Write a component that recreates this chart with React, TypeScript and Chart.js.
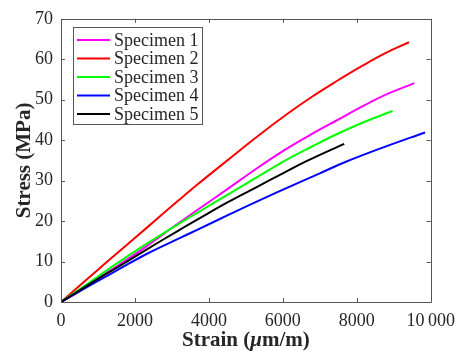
import React, { useEffect, useRef } from "react";
import { Chart, registerables } from "chart.js";

Chart.register(...registerables);

const seriesLabels = ["Specimen 1", "Specimen 2", "Specimen 3", "Specimen 4", "Specimen 5"];
const seriesColors = ["#ff00ff", "#ff0000", "#00ff00", "#0000ff", "#000000"];

const s1Strain = [0, 500, 1000, 1570, 2300, 3165, 3697, 4500, 5293, 6107, 6800, 7440, 8100, 8773, 9555];
const s1Stress = [0, 2.7, 5.8, 9.2, 13.7, 19.4, 22.8, 27.9, 33.0, 37.9, 41.6, 44.8, 48.1, 51.2, 54.1];

const s2Strain = [0, 1000, 1570, 2300, 3165, 3697, 4500, 5293, 6107, 6800, 7440, 8100, 8773, 9413];
const s2Stress = [0, 8.0, 12.5, 18.2, 25.0, 29.1, 35.0, 40.8, 46.4, 50.8, 54.5, 58.1, 61.5, 64.2];

const s3Strain = [0, 1000, 1570, 2300, 3165, 3697, 4500, 5293, 6107, 6800, 7440, 8200, 8968];
const s3Stress = [0, 6.3, 9.9, 14.3, 19.2, 22.1, 26.5, 30.8, 35.2, 38.5, 41.4, 44.5, 47.2];

const s4Strain = [0, 1000, 1570, 2300, 3165, 3697, 4500, 5293, 6356, 7000, 7690, 8773, 9848];
const s4Stress = [0, 5.2, 8.1, 11.8, 15.6, 17.9, 21.4, 24.8, 29.2, 31.8, 34.6, 38.4, 41.9];

const s5Strain = [0, 1000, 1570, 2300, 3165, 3697, 4500, 5293, 6000, 6640, 7661];
const s5Stress = [0, 5.7, 8.8, 12.9, 17.6, 20.4, 24.6, 28.4, 31.8, 34.8, 39.1];

const strainSeries = [s1Strain, s2Strain, s3Strain, s4Strain, s5Strain];
const stressSeries = [s1Stress, s2Stress, s3Stress, s4Stress, s5Stress];

const xMin = 0;
const xMax = 10000;
const xStep = 2000;
const yMin = 0;
const yMax = 70;
const yStep = 10;

const FONT = "'Liberation Serif', 'Times New Roman', serif";
const AXIS_COLOR = "#262626";

const framePlugin = {
  id: "frame",
  afterDraw(chart: any) {
    const ctx = chart.ctx;
    const { left, right, top, bottom } = chart.chartArea;
    const xs = chart.scales.x;
    const ys = chart.scales.y;
    ctx.save();
    ctx.strokeStyle = "#555555";
    ctx.lineWidth = 1;
    ctx.beginPath();
    ctx.rect(Math.round(left) + 0.5, Math.round(top) + 0.5, Math.round(right - left), Math.round(bottom - top));
    ctx.stroke();
    const tl = 4;
    ctx.beginPath();
    xs.ticks.forEach((t: any) => {
      const px = Math.round(xs.getPixelForValue(t.value)) + 0.5;
      ctx.moveTo(px, bottom);
      ctx.lineTo(px, bottom - tl);
      ctx.moveTo(px, top);
      ctx.lineTo(px, top + tl);
    });
    ys.ticks.forEach((t: any) => {
      const py = Math.round(ys.getPixelForValue(t.value)) + 0.5;
      ctx.moveTo(left, py);
      ctx.lineTo(left + tl, py);
      ctx.moveTo(right, py);
      ctx.lineTo(right - tl, py);
    });
    ctx.stroke();

    // Legend
    const lx = 73.5, ly = 27.5, lw = 129, lh = 97;
    ctx.fillStyle = "#ffffff";
    ctx.fillRect(lx, ly, lw, lh);
    ctx.strokeStyle = "#555555";
    ctx.strokeRect(lx, ly, lw, lh);
    ctx.font = `18px ${FONT}`;
    ctx.textBaseline = "middle";
    ctx.textAlign = "left";
    chart.data.datasets.forEach((ds: any, i: number) => {
      const cy = 40 + i * 18.5;
      ctx.strokeStyle = ds.borderColor;
      ctx.lineWidth = 2;
      ctx.beginPath();
      ctx.moveTo(77, cy);
      ctx.lineTo(110, cy);
      ctx.stroke();
      ctx.fillStyle = AXIS_COLOR;
      ctx.fillText(ds.label, 114, cy + 1);
    });

    // Axis titles
    ctx.fillStyle = AXIS_COLOR;
    const boldFont = `bold 21px ${FONT}`;
    const italicFont = `italic bold 21px ${FONT}`;
    const parts = [
      { t: "Strain (", f: boldFont },
      { t: "\u03bc", f: italicFont },
      { t: "m/m)", f: boldFont },
    ];
    let total = 0;
    parts.forEach((p) => {
      ctx.font = p.f;
      total += ctx.measureText(p.t).width;
    });
    let x0 = (left + right) / 2 - total / 2;
    ctx.textBaseline = "alphabetic";
    parts.forEach((p) => {
      ctx.font = p.f;
      ctx.fillText(p.t, x0, 346);
      x0 += ctx.measureText(p.t).width;
    });

    ctx.translate(25, (top + bottom) / 2);
    ctx.rotate(-Math.PI / 2);
    ctx.font = boldFont;
    ctx.textAlign = "center";
    ctx.textBaseline = "middle";
    ctx.fillText("Stress (MPa)", 0, 0);
    ctx.restore();
  },
};

export default function App() {
  const canvasRef = useRef<HTMLCanvasElement | null>(null);

  useEffect(() => {
    const canvas = canvasRef.current;
    if (!canvas) return;
    const datasets = seriesLabels.map((label, i) => ({
      label,
      data: strainSeries[i].map((x, j) => ({ x, y: stressSeries[i][j] })),
      borderColor: seriesColors[i],
      backgroundColor: seriesColors[i],
      borderWidth: 2,
      pointRadius: 0,
      fill: false,
      tension: 0.4,
      order: seriesLabels.length - i,
    }));
    const chart = new Chart(canvas, {
      type: "line",
      data: { datasets },
      options: {
        responsive: false,
        maintainAspectRatio: false,
        animation: false,
        layout: { padding: { left: 0, right: 26, top: 16, bottom: 0 } },
        plugins: {
          legend: { display: false },
          tooltip: { enabled: false },
        },
        scales: {
          x: {
            type: "linear",
            min: xMin,
            max: xMax,
            grid: { display: false, drawTicks: false },
            border: { display: false },
            afterFit(scale: any) {
              scale.height = 49;
            },
            ticks: {
              stepSize: xStep,
              padding: 8,
              color: AXIS_COLOR,
              font: { family: FONT, size: 18 },
              maxRotation: 0,
              callback: (v: any) => (Number(v) >= 10000 ? "10\u2009000" : String(v)),
            },
          },
          y: {
            type: "linear",
            min: yMin,
            max: yMax,
            grid: { display: false, drawTicks: false },
            border: { display: false },
            afterFit(scale: any) {
              scale.width = 61;
            },
            ticks: {
              stepSize: yStep,
              padding: 8,
              color: AXIS_COLOR,
              font: { family: FONT, size: 18 },
            },
          },
        },
      },
      plugins: [framePlugin],
    });
    return () => chart.destroy();
  }, []);

  return (
    <div style={{ position: "fixed", left: 0, top: 0, width: 463, height: 351, background: "#fff" }}>
      <canvas ref={canvasRef} width={463} height={351} style={{ width: 463, height: 351, display: "block" }} />
    </div>
  );
}
